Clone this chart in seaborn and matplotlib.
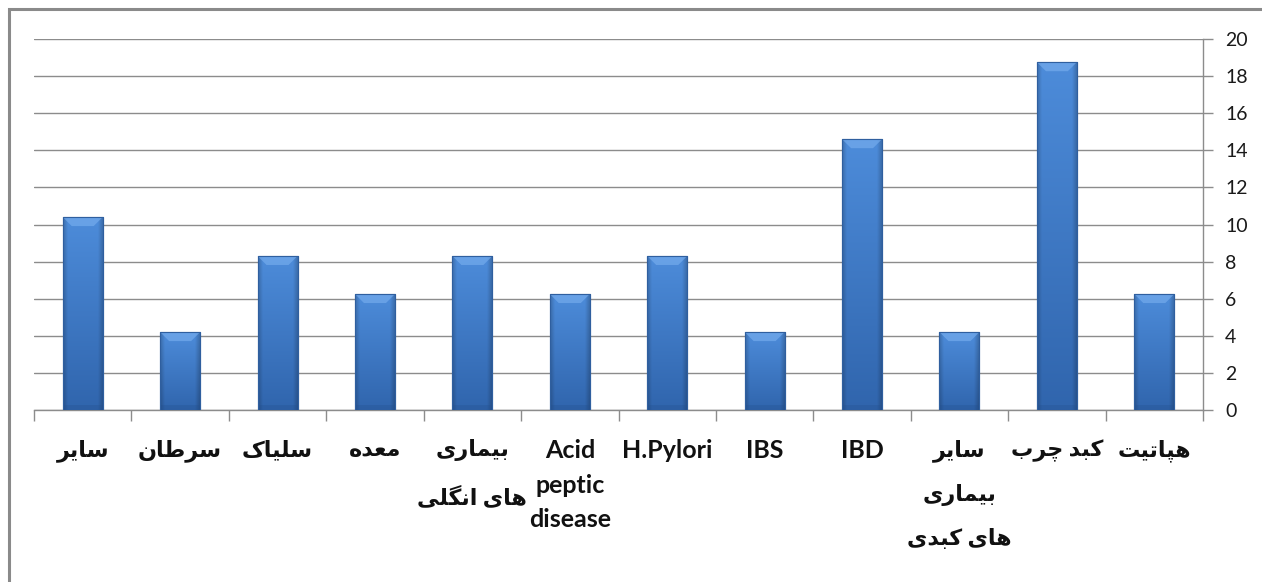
import numpy as np
import pandas as pd
import matplotlib
matplotlib.use("Agg")
import matplotlib.pyplot as plt
from matplotlib.patches import Rectangle, Polygon
from matplotlib.ticker import FixedLocator
import seaborn as sns

# ---- data -----------------------------------------------------------------
categories = ["سایر", "سرطان", "سلیاک", "معده", "بیماری\nهای انگلی",
              "Acid\npeptic\ndisease", "H.Pylori", "IBS", "IBD",
              "سایر\nبیماری\nهای کبدی", "کبد چرب", "هپاتیت"]
percent = [10.4, 4.2, 8.3, 6.25, 8.3, 6.25, 8.3, 4.2, 14.6, 4.2, 18.75, 6.25]
y_ticks = list(range(0, 21, 2))

# ---- minimal Persian shaping (contextual forms + right-to-left order) -----
# isolated, final, initial, medial
FORMS = {
    "\u0627": ("\uFE8D", "\uFE8E", None, None),        # alef
    "\u0628": ("\uFE8F", "\uFE90", "\uFE91", "\uFE92"),  # beh
    "\u067E": ("\uFB56", "\uFB57", "\uFB58", "\uFB59"),  # peh
    "\u062A": ("\uFE95", "\uFE96", "\uFE97", "\uFE98"),  # teh
    "\u0686": ("\uFB7A", "\uFB7B", "\uFB7C", "\uFB7D"),  # tcheh
    "\u062F": ("\uFEA9", "\uFEAA", None, None),        # dal
    "\u0631": ("\uFEAD", "\uFEAE", None, None),        # reh
    "\u0633": ("\uFEB1", "\uFEB2", "\uFEB3", "\uFEB4"),  # seen
    "\u0637": ("\uFEC1", "\uFEC2", "\uFEC3", "\uFEC4"),  # tah
    "\u0639": ("\uFEC9", "\uFECA", "\uFECB", "\uFECC"),  # ain
    "\u06A9": ("\uFB8E", "\uFB8F", "\uFB90", "\uFB91"),  # keheh
    "\u06AF": ("\uFB92", "\uFB93", "\uFB94", "\uFB95"),  # gaf
    "\u0644": ("\uFEDD", "\uFEDE", "\uFEDF", "\uFEE0"),  # lam
    "\u0645": ("\uFEE1", "\uFEE2", "\uFEE3", "\uFEE4"),  # meem
    "\u0646": ("\uFEE5", "\uFEE6", "\uFEE7", "\uFEE8"),  # noon
    "\u0647": ("\uFEE9", "\uFEEA", "\uFEEB", "\uFEEC"),  # heh
    "\u06CC": ("\uFBFC", "\uFBFD", "\uFBFE", "\uFBFF"),  # farsi yeh
}


def is_persian(text):
    return any(ch in FORMS for ch in text)


def shape_line(line):
    if not is_persian(line):
        return line
    out = []
    n = len(line)
    for i, ch in enumerate(line):
        if ch not in FORMS:
            out.append(ch)
            continue
        prev = line[i - 1] if i > 0 else ""
        nxt = line[i + 1] if i + 1 < n else ""
        joins_prev = prev in FORMS and FORMS[prev][2] is not None
        joins_next = FORMS[ch][2] is not None and nxt in FORMS
        iso, fin, ini, med = FORMS[ch]
        if joins_prev and joins_next:
            out.append(med)
        elif joins_prev:
            out.append(fin)
        elif joins_next:
            out.append(ini)
        else:
            out.append(iso)
    return "".join(out)[::-1]


def display_label(label):
    return "\n".join(shape_line(l) for l in label.split("\n"))


df = pd.DataFrame({"category": categories, "percent": percent})

# ---- figure ---------------------------------------------------------------
sns.set_theme(style="white")
plt.rcParams["font.family"] = ["Lato", "DejaVu Sans"]

W, H = 1262, 582
fig = plt.figure(figsize=(W / 100, H / 100), dpi=100)
ax = fig.add_axes([34 / W, 1 - 410 / H, (1203 - 34) / W, (410 - 39) / H])

BAR_W = 0.41
sns.barplot(data=df, x="category", y="percent", ax=ax, width=BAR_W,
            color="#3f7cc9", edgecolor="#2f5f9f", linewidth=0.8,
            saturation=1, zorder=3)

ax.set_xlim(-0.5, len(categories) - 0.5)
ax.set_ylim(0, 20)
ax.set_xlabel("")
ax.set_ylabel("")

# right-hand value axis
ax.yaxis.tick_right()
ax.yaxis.set_major_locator(FixedLocator(y_ticks))
ax.grid(axis="y", color="#8c8c8c", linewidth=1.0, zorder=0)
ax.set_axisbelow(True)
ax.tick_params(axis="y", which="major", direction="out", length=7,
               width=1.0, color="#8c8c8c", pad=9, labelsize=14,
               labelcolor="#1a1a1a", left=False, right=True)

for side in ("top", "left"):
    ax.spines[side].set_visible(False)
for side in ("bottom", "right"):
    ax.spines[side].set_color("#8c8c8c")
    ax.spines[side].set_linewidth(1.0)

# category axis: divider ticks between groups, labels under the groups
ax.xaxis.set_minor_locator(FixedLocator(np.arange(-0.5, len(categories), 1)))
ax.tick_params(axis="x", which="minor", direction="out", length=8,
               width=1.0, color="#8c8c8c", bottom=True)
ax.tick_params(axis="x", which="major", length=0, pad=21)
ax.set_xticks(range(len(categories)))
ax.set_xticklabels([display_label(c) for c in categories])
for lab, raw in zip(ax.get_xticklabels(), categories):
    lab.set_fontweight("bold")
    lab.set_color("#111111")
    lab.set_multialignment("center")
    if is_persian(raw):
        lab.set_fontsize(16)
        lab.set_linespacing(2.3)
    else:
        lab.set_fontsize(18)
        lab.set_linespacing(1.6)

# ---- bevelled gradient fill for the bars ---------------------------------
fig.canvas.draw()
x_per_px = 1.0 / (ax.transData.transform((1, 0))[0] - ax.transData.transform((0, 0))[0])
y_per_px = 1.0 / (ax.transData.transform((0, 1))[1] - ax.transData.transform((0, 0))[1])

top_c = np.array([0x4d, 0x8c, 0xda]) / 255
bot_c = np.array([0x30, 0x65, 0xad]) / 255
rows, cols = 200, 60
v = np.linspace(0, 1, rows)[:, None]
h = np.linspace(0, 1, cols)[None, :]
base = top_c[None, None, :] * (1 - v[..., None]) + bot_c[None, None, :] * v[..., None]
edge = np.clip(1 - np.minimum(h, 1 - h) / 0.12, 0, 1)
shade = 1 - 0.2 * edge
grad = np.clip(base * shade[..., None], 0, 1)

for patch in ax.patches:
    x0, y0 = patch.get_x(), patch.get_y()
    w, hgt = patch.get_width(), patch.get_height()
    im = ax.imshow(grad, extent=(x0, x0 + w, y0, y0 + hgt), aspect="auto",
                   origin="upper", zorder=3.5, interpolation="bilinear")
    im.set_clip_path(patch)
    # light top bevel
    bx, by = 9 * x_per_px, 9 * y_per_px
    top = y0 + hgt
    bevel = Polygon([(x0, top), (x0 + w, top), (x0 + w - bx, top - by),
                     (x0 + bx, top - by)], closed=True,
                    facecolor="#74abec", edgecolor="none", alpha=0.7,
                    zorder=3.6)
    ax.add_patch(bevel)
    # darker bottom band
    band = Rectangle((x0, y0), w, 5 * y_per_px, facecolor="#23508e",
                     edgecolor="none", alpha=0.3, zorder=3.6)
    ax.add_patch(band)
    outline = Rectangle((x0, y0), w, hgt, facecolor="none",
                        edgecolor="#2f5f9f", linewidth=0.8, zorder=3.7)
    ax.add_patch(outline)

ax.set_xlim(-0.5, len(categories) - 0.5)
ax.set_ylim(0, 20)

# outer chart frame
fig.add_artist(Rectangle((9 / W, -0.1), 1.2, 1 - 9 / H + 0.1,
                         transform=fig.transFigure, facecolor="none",
                         edgecolor="#8a8a8a", linewidth=2.2))

fig.savefig("out.png", dpi=100)
